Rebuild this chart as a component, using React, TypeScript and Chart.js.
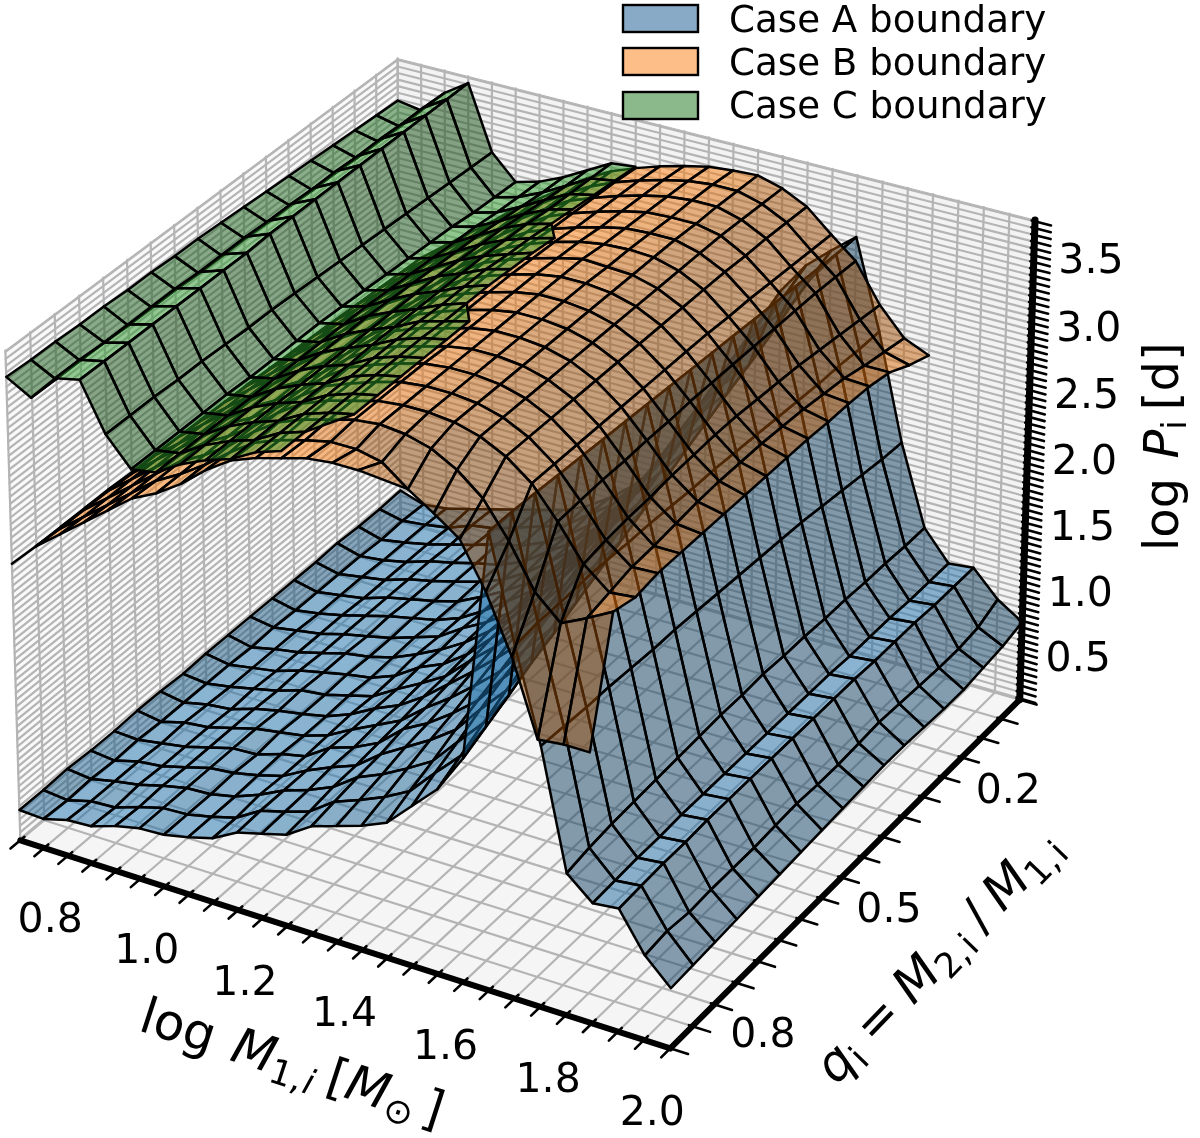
import React, { useEffect, useRef } from "react";
import { Chart, registerables } from "chart.js";

Chart.register(...registerables);

type V = number | null;
const _ = null;

const logM = [0.7, 0.75, 0.8, 0.85, 0.9, 0.95, 1.0, 1.05, 1.1, 1.15, 1.2, 1.25, 1.3, 1.35, 1.4, 1.45, 1.5, 1.55, 1.6, 1.65, 1.7, 1.75, 1.8, 1.85, 1.9, 1.95, 2.0];
const qValues = [0.1, 0.15, 0.2, 0.25, 0.3, 0.35, 0.4, 0.45, 0.5, 0.55, 0.6, 0.65, 0.7, 0.75, 0.8, 0.85, 0.9, 0.95];
const mTickLabels = ["0.8", "1.0", "1.2", "1.4", "1.6", "1.8", "2.0"];
const qTickLabels = ["0.2", "0.5", "0.8"];
const pTickLabels = ["0.5", "1.0", "1.5", "2.0", "2.5", "3.0", "3.5"];
const legendLabels = ["Case A boundary", "Case B boundary", "Case C boundary"];

const caseA: V[][] = [
  [.39, .33, .35, .40, .45, .50, .55, .60, .68, .80, .95, 1.15, 1.40, 1.70, 2.05, 2.40, 2.75, 2.99, 3.15, 3.30, 2.64, 1.85, 1.25, 1.03, 1.05, .86, .74],
  [.38, .34, .36, .39, .46, .49, .55, .61, .67, .81, .94, 1.13, 1.37, 1.66, 1.99, 2.32, 2.66, 2.90, 3.07, 3.30, 2.64, 1.86, 1.25, 1.03, 1.05, .79, .70],
  [.38, .33, .36, .40, .45, .50, .56, .60, .68, .79, .93, 1.11, 1.34, 1.62, 1.93, 2.25, 2.58, 2.81, 2.99, 3.31, 2.65, 1.88, 1.26, 1.03, 1.05, .77, .68],
  [.39, .34, .36, .40, .46, .50, .55, .59, .67, .80, .92, 1.09, 1.32, 1.57, 1.87, 2.17, 2.49, 2.72, 2.90, 3.32, 2.65, 1.90, 1.26, 1.04, 1.06, .77, .66],
  [.38, .34, .37, .40, .46, .50, .55, .60, .67, .78, .92, 1.07, 1.29, 1.53, 1.81, 2.10, 2.41, 2.63, 2.82, 3.33, 2.66, 1.92, 1.27, 1.04, 1.06, .78, .66],
  [.38, .34, .37, .40, .46, .50, .54, .59, .68, .78, .90, 1.06, 1.27, 1.50, 1.76, 2.03, 2.34, 2.56, 2.75, 3.34, 2.67, 1.94, 1.27, 1.04, 1.06, .79, .67],
  [.38, .34, .37, .41, .46, .51, .55, .59, .66, .77, .90, 1.03, 1.24, 1.46, 1.70, 1.96, 2.25, 2.47, 2.67, 3.35, 2.68, 1.95, 1.28, 1.05, 1.07, .80, .68],
  [.38, .35, .38, .41, .46, .50, .54, .60, .66, .78, .88, 1.01, 1.21, 1.41, 1.64, 1.88, 2.16, 2.38, 2.59, 3.36, 2.69, 1.96, 1.28, 1.05, 1.07, .79, .68],
  [.38, .34, .38, .41, .46, .51, .54, .59, .67, .76, .87, 1.01, 1.18, 1.37, 1.58, 1.81, 2.08, 2.29, 2.51, 3.37, 2.70, 1.97, 1.29, 1.05, 1.07, .78, .67],
  [.38, .35, .38, .41, .47, .51, .55, .58, .65, .77, .85, .98, 1.16, 1.33, 1.53, 1.73, 1.99, 2.20, 2.42, 3.38, 2.70, 1.98, 1.28, 1.05, 1.07, .78, .66],
  [.37, .35, .38, .42, .46, .52, .54, .59, .64, .75, .85, .96, 1.13, 1.29, 1.47, 1.66, 1.91, 2.11, 2.34, 3.39, 2.71, 1.99, 1.28, 1.05, 1.07, .79, .65],
  [.38, .35, .39, .41, .47, .51, .54, .58, .65, .75, .83, .95, 1.10, 1.25, 1.41, 1.58, 1.82, 2.02, 2.26, 3.40, 2.72, 2.00, 1.27, 1.05, 1.07, .78, .64],
  [.38, .35, .40, .42, .47, .52, .55, .58, .64, .74, .83, .92, 1.07, 1.20, 1.35, 1.51, 1.73, 1.93, 2.18, 3.41, 2.72, 2.00, 1.26, 1.05, 1.07, .77, .63],
  [.37, .36, .39, .42, .47, .52, .53, .59, .63, .75, .81, .90, 1.06, 1.16, 1.29, 1.44, 1.66, 1.85, 2.10, 3.42, 2.73, 2.01, 1.25, 1.05, 1.07, .77, .62],
  [.37, .35, .40, .42, .47, .52, .54, .58, .63, .73, .81, .88, 1.02, 1.13, 1.24, 1.37, 1.58, 1.77, 2.03, 3.43, 2.73, 2.02, 1.24, 1.04, 1.06, .77, .61],
  [.38, .36, .40, .43, .48, .52, .53, .57, .64, .73, .79, .87, 1.00, 1.08, 1.18, 1.29, 1.49, 1.68, 1.94, 3.44, 2.72, 2.02, 1.23, 1.04, 1.06, .76, .60],
  [.37, .35, .40, .41, .47, .52, .53, .57, .62, .73, .78, .84, .97, 1.04, 1.12, 1.22, 1.41, 1.59, 1.86, 3.45, 2.72, 2.03, 1.21, 1.03, 1.05, .78, .59],
  [.37, .36, .41, .42, .48, .52, .53, .57, .62, .72, .77, .82, .94, 1.00, 1.06, 1.14, 1.32, 1.50, 1.78, 3.45, 2.70, 2.04, 1.18, 1.02, 1.04, .76, .58],
];

const caseB: V[][] = [
  [2.10, 2.28, 2.42, 2.56, 2.70, 2.85, 2.97, 3.10, 3.22, 3.32, 3.39, 3.45, 3.50, 3.54, 3.56, 3.57, 3.52, 3.43, 3.27, 3.12, 2.84, 2.64, 2.56, _, _, _, _],
  [2.11, 2.29, 2.43, 2.57, 2.71, 2.86, 2.98, 3.11, 3.23, 3.33, 3.41, 3.47, 3.52, 3.56, 3.58, 3.58, 3.53, 3.44, 3.28, 3.13, 2.86, 2.67, 2.62, _, _, _, _],
  [2.12, 2.30, 2.44, 2.58, 2.72, 2.87, 2.99, 3.12, 3.24, 3.35, 3.42, 3.48, 3.53, 3.57, 3.59, 3.59, 3.54, 3.45, 3.29, 3.14, 2.88, 2.70, 2.70, _, _, _, _],
  [2.13, 2.31, 2.45, 2.59, 2.73, 2.88, 2.99, 3.12, 3.25, 3.36, 3.43, 3.49, 3.54, 3.58, 3.59, 3.59, 3.55, 3.45, 3.30, 3.14, 2.90, 2.74, 2.73, _, _, _, _],
  [2.14, 2.32, 2.46, 2.60, 2.74, 2.89, 3.00, 3.13, 3.26, 3.37, 3.44, 3.50, 3.55, 3.59, 3.60, 3.60, 3.55, 3.46, 3.31, 3.14, 2.92, 2.76, 2.74, _, _, _, _],
  [2.15, 2.33, 2.47, 2.61, 2.75, 2.90, 3.00, 3.13, 3.27, 3.38, 3.46, 3.52, 3.57, 3.60, 3.61, 3.60, 3.55, 3.46, 3.31, 3.14, 2.93, 2.78, 2.74, _, _, _, _],
  [2.16, 2.33, 2.48, 2.62, 2.76, 2.90, 3.01, 3.14, 3.28, 3.40, 3.47, 3.53, 3.58, 3.62, 3.61, 3.60, 3.55, 3.46, 3.32, 3.14, 2.94, 2.79, 2.75, _, _, _, _],
  [2.17, 2.34, 2.49, 2.63, 2.77, 2.91, 3.01, 3.14, 3.28, 3.40, 3.48, 3.54, 3.59, 3.62, 3.62, 3.60, 3.55, 3.46, 3.32, 3.14, 2.95, 2.80, 2.75, _, _, _, _],
  [2.17, 2.35, 2.49, 2.63, 2.77, 2.91, 3.02, 3.15, 3.29, 3.41, 3.48, 3.54, 3.59, 3.62, 3.62, 3.60, 3.55, 3.46, 3.32, 3.14, 2.95, 2.80, 2.75, _, _, _, _],
  [2.18, 2.36, 2.50, 2.64, 2.78, 2.92, 3.02, 3.15, 3.29, 3.41, 3.48, 3.54, 3.59, 3.62, 3.62, 3.60, 3.55, 3.46, 3.32, 3.13, 2.94, 2.80, 2.75, _, _, _, _],
  [2.18, 2.36, 2.50, 2.64, 2.78, 2.92, 3.03, 3.15, 3.30, 3.42, 3.49, 3.54, 3.59, 3.62, 3.62, 3.60, 3.55, 3.46, 3.32, 3.13, 2.93, 2.79, 2.75, _, _, _, _],
  [2.19, 2.37, 2.51, 2.65, 2.79, 2.93, 3.03, 3.15, 3.30, 3.42, 3.49, 3.54, 3.59, 3.62, 3.62, 3.60, 3.55, 3.46, 3.32, 3.12, 2.91, 2.77, 2.75, _, _, _, _],
  [2.19, 2.37, 2.51, 2.65, 2.79, 2.93, 3.03, 3.15, 3.30, 3.42, 3.49, 3.55, 3.60, 3.62, 3.62, 3.60, 3.55, 3.46, 3.32, 3.12, 2.90, 2.75, 2.75, _, _, _, _],
  [2.20, 2.37, 2.52, 2.66, 2.80, 2.94, 3.04, 3.16, 3.30, 3.42, 3.49, 3.55, 3.60, 3.62, 3.62, 3.60, 3.55, 3.46, 3.32, 3.11, 2.88, 2.74, 2.75, _, _, _, _],
  [2.20, 2.38, 2.52, 2.66, 2.80, 2.94, 3.04, 3.16, 3.31, 3.43, 3.50, 3.55, 3.60, 3.62, 3.62, 3.60, 3.55, 3.46, 3.32, 3.10, 2.85, 2.70, 2.72, _, _, _, _],
  [2.20, 2.38, 2.52, 2.66, 2.80, 2.94, 3.04, 3.16, 3.31, 3.43, 3.50, 3.55, 3.60, 3.62, 3.60, 3.55, 3.45, 3.30, 3.05, 2.74, 2.57, 2.66, 2.76, _, _, _, _],
  [2.20, 2.38, 2.52, 2.66, 2.80, 2.94, 3.04, 3.16, 3.30, 3.42, 3.49, 3.54, 3.58, 3.58, 3.54, 3.40, 3.28, 3.15, 2.83, 2.42, 1.88, 1.90, 1.90, _, _, _, _],
  [2.21, 2.39, 2.53, 2.67, 2.81, 2.95, 3.04, 3.16, 3.31, 3.43, 3.50, 3.55, 3.60, 3.62, 3.62, _, _, _, _, _, _, _, _, _, _, _, _],
];

const caseC: V[][] = [
  [3.44, 3.41, 3.59, 3.71, 3.23, 3.05, 3.10, 3.18, 3.28, 3.38, 3.40, _, _, _, _, _, _, _, _, _, _, _, _, _, _, _, _],
  [3.45, 3.41, 3.60, 3.71, 3.24, 3.06, 3.11, 3.19, 3.29, 3.39, 3.42, _, _, _, _, _, _, _, _, _, _, _, _, _, _, _, _],
  [3.46, 3.42, 3.60, 3.71, 3.25, 3.07, 3.12, 3.21, 3.31, 3.40, 3.44, _, _, _, _, _, _, _, _, _, _, _, _, _, _, _, _],
  [3.47, 3.42, 3.61, 3.71, 3.26, 3.09, 3.14, 3.23, 3.33, 3.41, 3.46, _, _, _, _, _, _, _, _, _, _, _, _, _, _, _, _],
  [3.48, 3.43, 3.61, 3.71, 3.27, 3.10, 3.15, 3.25, 3.35, 3.43, 3.48, _, _, _, _, _, _, _, _, _, _, _, _, _, _, _, _],
  [3.49, 3.43, 3.62, 3.71, 3.28, 3.11, 3.16, 3.26, 3.36, 3.44, 3.50, 3.55, _, _, _, _, _, _, _, _, _, _, _, _, _, _, _],
  [3.50, 3.44, 3.62, 3.71, 3.29, 3.12, 3.17, 3.27, 3.37, 3.45, 3.51, 3.57, _, _, _, _, _, _, _, _, _, _, _, _, _, _, _],
  [3.51, 3.44, 3.63, 3.71, 3.30, 3.13, 3.18, 3.28, 3.38, 3.45, 3.53, 3.58, _, _, _, _, _, _, _, _, _, _, _, _, _, _, _],
  [3.52, 3.45, 3.63, 3.71, 3.31, 3.14, 3.19, 3.29, 3.38, 3.45, 3.53, 3.59, _, _, _, _, _, _, _, _, _, _, _, _, _, _, _],
  [3.53, 3.45, 3.64, 3.71, 3.32, 3.15, 3.19, 3.30, 3.38, 3.45, 3.53, 3.59, _, _, _, _, _, _, _, _, _, _, _, _, _, _, _],
  [3.53, 3.45, 3.64, 3.70, 3.33, 3.15, 3.19, 3.30, 3.38, 3.45, 3.54, 3.59, 3.64, _, _, _, _, _, _, _, _, _, _, _, _, _, _],
  [3.54, 3.46, 3.64, 3.70, 3.33, 3.15, 3.19, 3.30, 3.38, 3.45, 3.54, 3.60, 3.64, _, _, _, _, _, _, _, _, _, _, _, _, _, _],
  [3.54, 3.46, 3.65, 3.70, 3.34, 3.15, 3.19, 3.30, 3.38, 3.44, 3.54, 3.60, 3.64, _, _, _, _, _, _, _, _, _, _, _, _, _, _],
  [3.55, 3.46, 3.65, 3.70, 3.35, 3.16, 3.19, 3.30, 3.38, 3.44, 3.54, 3.60, 3.64, _, _, _, _, _, _, _, _, _, _, _, _, _, _],
  [3.55, 3.47, 3.65, 3.70, 3.35, 3.16, 3.19, 3.30, 3.38, 3.44, 3.54, 3.60, 3.64, _, _, _, _, _, _, _, _, _, _, _, _, _, _],
  [3.56, 3.47, 3.65, 3.70, 3.36, 3.16, 3.19, 3.30, 3.38, 3.44, 3.54, 3.60, 3.64, _, _, _, _, _, _, _, _, _, _, _, _, _, _],
  [3.56, 3.47, 3.66, 3.70, 3.36, 3.16, 3.19, 3.30, 3.38, 3.44, 3.54, 3.60, _, _, _, _, _, _, _, _, _, _, _, _, _, _, _],
  [3.57, 3.47, 3.66, 3.70, 3.36, 3.16, 3.19, 3.30, 3.38, 3.44, 3.54, 3.60, _, _, _, _, _, _, _, _, _, _, _, _, _, _, _],
];

const mRange = [0.7, 2.0];
const qRange = [0.1, 0.95];
const pRange = [0.14, 3.76];
const tickStep = 0.05;

// cube corner (fraction along M, q, log P) -> picture position
const cubeCorners: number[][] = [
  [0, 0, 0, 400, 521],
  [1, 0, 0, 1020, 700],
  [1, 1, 0, 670, 1048],
  [0, 1, 0, 21, 841],
  [0, 0, 1, 398, 59],
  [1, 0, 1, 1035, 220],
  [0, 1, 1, 5, 350],
];

function solveCamera(): number[] {
  const rows: number[][] = [];
  const rhs: number[] = [];
  for (const [a, b, c, X, Y] of cubeCorners) {
    rows.push([a, b, c, 1, 0, 0, 0, 0, -X * a, -X * b, -X * c]);
    rhs.push(X);
    rows.push([0, 0, 0, 0, a, b, c, 1, -Y * a, -Y * b, -Y * c]);
    rhs.push(Y);
  }
  const n = 11;
  const A: number[][] = Array.from({ length: n }, () => new Array(n + 1).fill(0));
  rows.forEach((r, k) => {
    for (let i = 0; i < n; i++) {
      for (let j = 0; j < n; j++) A[i][j] += r[i] * r[j];
      A[i][n] += r[i] * rhs[k];
    }
  });
  for (let i = 0; i < n; i++) {
    let p = i;
    for (let k = i + 1; k < n; k++) if (Math.abs(A[k][i]) > Math.abs(A[p][i])) p = k;
    [A[i], A[p]] = [A[p], A[i]];
    for (let k = 0; k < n; k++) {
      if (k === i) continue;
      const f = A[k][i] / A[i][i];
      for (let j = i; j <= n; j++) A[k][j] -= f * A[i][j];
    }
  }
  return A.map((r, i) => r[n] / r[i]);
}

const cam = solveCamera();
function projFrac(a: number, b: number, c: number) {
  const w = cam[8] * a + cam[9] * b + cam[10] * c + 1;
  return {
    x: (cam[0] * a + cam[1] * b + cam[2] * c + cam[3]) / w,
    y: (cam[4] * a + cam[5] * b + cam[6] * c + cam[7]) / w,
    w,
  };
}
const fM = (m: number) => (m - mRange[0]) / (mRange[1] - mRange[0]);
const fQ = (q: number) => (q - qRange[0]) / (qRange[1] - qRange[0]);
const fP = (p: number) => (p - pRange[0]) / (pRange[1] - pRange[0]);
const project = (m: number, q: number, p: number) => projFrac(fM(m), fQ(q), fP(p));

const lineSet = (pts: { x: number; y: number }[], color: string, width: number) => ({
  data: pts.map((p) => ({ x: p.x, y: p.y })),
  showLine: true,
  pointRadius: 0,
  borderColor: color,
  borderWidth: width,
  borderCapStyle: "round",
  borderJoinStyle: "round",
  fill: false,
  tension: 0,
  clip: false,
});
const polySet = (pts: { x: number; y: number }[], fillColor: string, edge: string, width: number) => ({
  ...lineSet([...pts, pts[0]], edge, width),
  backgroundColor: fillColor,
  fill: "shape",
});

type P3 = [number, number, number];
const light: P3 = [-0.6667, -0.6667, 0.3333];

function surfaceSets(z: V[][], rgb: number[], alpha: number) {
  const quads: { pts: P3[]; shade: number; depth: number }[] = [];
  for (let r = 0; r < qValues.length - 1; r++) {
    for (let c = 0; c < logM.length - 1; c++) {
      const corners: [number, number][] = [[r, c], [r, c + 1], [r + 1, c + 1], [r + 1, c]];
      const pts: P3[] = [];
      for (const [i, j] of corners) {
        const val = z[i][j];
        if (val !== null) pts.push([logM[j], qValues[i], val]);
      }
      if (pts.length < 3) continue;
      const a = [pts[1][0] - pts[0][0], pts[1][1] - pts[0][1], pts[1][2] - pts[0][2]];
      const b = [pts[2][0] - pts[1][0], pts[2][1] - pts[1][1], pts[2][2] - pts[1][2]];
      let n = [a[1] * b[2] - a[2] * b[1], a[2] * b[0] - a[0] * b[2], a[0] * b[1] - a[1] * b[0]];
      if (n[2] < 0) n = n.map((v) => -v);
      const len = Math.hypot(n[0], n[1], n[2]) || 1;
      const shade = (n[0] * light[0] + n[1] * light[1] + n[2] * light[2]) / len;
      const depth = pts.reduce((s, p) => s + project(p[0], p[1], p[2]).w, 0) / pts.length;
      quads.push({ pts, shade, depth });
    }
  }
  const lo = Math.min(...quads.map((q) => q.shade));
  const hi = Math.max(...quads.map((q) => q.shade));
  quads.sort((a, b) => b.depth - a.depth);
  return quads.map((q) => {
    const k = 0.5 + (0.5 * (q.shade - lo)) / (hi - lo);
    const col = `rgba(${rgb.map((v) => Math.round(v * k)).join(",")},${alpha})`;
    return polySet(q.pts.map((p) => project(p[0], p[1], p[2])), col, "#000000", 2.5);
  });
}

function buildDatasets() {
  const sets: any[] = [];
  const gridColor = "#b4b4b4";
  const [m0, m1] = mRange;
  const [q0, q1] = qRange;
  const [p0, p1] = pRange;
  sets.push(polySet([project(m0, q0, p0), project(m1, q0, p0), project(m1, q1, p0), project(m0, q1, p0)], "#f5f5f5", gridColor, 1));
  sets.push(polySet([project(m0, q0, p0), project(m1, q0, p0), project(m1, q0, p1), project(m0, q0, p1)], "#f3f3f3", gridColor, 1));
  sets.push(polySet([project(m0, q0, p0), project(m0, q1, p0), project(m0, q1, p1), project(m0, q0, p1)], "#f9f9f9", gridColor, 1));
  const pTicks: number[] = [];
  for (let k = Math.ceil(p0 / tickStep); k * tickStep <= p1; k++) pTicks.push(k * tickStep);
  for (const m of logM) {
    sets.push(lineSet([project(m, q1, p0), project(m, q0, p0), project(m, q0, p1)], gridColor, 2.2));
  }
  for (const q of qValues) {
    sets.push(lineSet([project(m1, q, p0), project(m0, q, p0), project(m0, q, p1)], gridColor, 2.2));
  }
  for (const p of pTicks) {
    sets.push(lineSet([project(m0, q1, p), project(m0, q0, p), project(m1, q0, p)], gridColor, 2.2));
  }
  sets.push(...surfaceSets(caseA, [31, 119, 180], 0.5));
  sets.push(...surfaceSets(caseB, [255, 127, 14], 0.5));
  sets.push(...surfaceSets(caseC, [44, 160, 44], 0.5));
  // axes
  sets.push(lineSet([project(m0, q1, p0), project(m1, q1, p0)], "#000", 6));
  sets.push(lineSet([project(m1, q1, p0), project(m1, q0, p0)], "#000", 6));
  sets.push(lineSet([project(m1, q0, p0), project(m1, q0, p1)], "#000", 7));
  for (const m of logM) {
    const f = fM(m);
    sets.push(lineSet([projFrac(f, 0.99, 0), projFrac(f, 1.024, 0)], "#000", 2.6));
  }
  for (const q of qValues) {
    const f = fQ(q);
    sets.push(lineSet([projFrac(0.995, f, 0), projFrac(1.026, f, 0)], "#000", 2.6));
  }
  for (const p of pTicks) {
    const f = fP(p);
    sets.push(lineSet([projFrac(0.995, 0, f), projFrac(1.024, 0, f)], "#000", 2.6));
  }
  return sets.reverse();
}

type Seg = { t: string; it?: boolean; sub?: boolean; gap?: number };
function drawMath(ctx: CanvasRenderingContext2D, segs: Seg[], x: number, y: number, deg: number, size: number) {
  ctx.save();
  ctx.translate(x, y);
  ctx.rotate((deg * Math.PI) / 180);
  ctx.textAlign = "left";
  ctx.textBaseline = "alphabetic";
  ctx.fillStyle = "#000";
  let cx = 0;
  for (const s of segs) {
    const fs = s.sub ? size * 0.7 : size;
    ctx.font = `${s.it ? "italic " : ""}${fs}px "DejaVu Sans"`;
    ctx.fillText(s.t, cx, s.sub ? size * 0.17 : 0);
    cx += ctx.measureText(s.t).width + (s.gap || 0);
  }
  ctx.restore();
}

const legendColors = ["rgb(136,170,199)", "rgb(253,190,135)", "rgb(140,185,140)"];

const textPlugin = {
  id: "cubeText",
  afterDraw(chart: any) {
    const ctx: CanvasRenderingContext2D = chart.ctx;
    const sx = chart.scales.x;
    const sy = chart.scales.y;
    ctx.save();
    ctx.fillStyle = "#000";
    ctx.textAlign = "center";
    ctx.textBaseline = "middle";
    ctx.font = '41px "DejaVu Sans"';
    const put = (s: string, p: { x: number; y: number }, dx: number, dy: number) =>
      ctx.fillText(s, sx.getPixelForValue(p.x) + dx, sy.getPixelForValue(p.y) + dy);
    for (const s of mTickLabels) put(s, project(parseFloat(s), qRange[1], pRange[0]), -18, 66);
    for (const s of qTickLabels) put(s, project(mRange[1], parseFloat(s), pRange[0]), 27, 54);
    for (const s of pTickLabels) put(s, project(mRange[1], qRange[0], parseFloat(s)), 57, 7);
    ctx.textAlign = "left";
    ctx.textBaseline = "alphabetic";
    ctx.font = '37.2px "DejaVu Sans"';
    legendLabels.forEach((s, i) => {
      const top = [5, 48, 92][i];
      ctx.fillStyle = legendColors[i];
      ctx.fillRect(623, top, 75, 27);
      ctx.strokeStyle = "#000";
      ctx.lineWidth = 2.4;
      ctx.strokeRect(623, top, 75, 27);
      ctx.fillStyle = "#000";
      ctx.fillText(s, 729, [32, 75, 118][i]);
    });
    ctx.restore();
    drawMath(ctx, [{ t: "log ", gap: 4 }, { t: "M", it: true }, { t: "1,", sub: true, gap: 2 }, { t: "i", sub: true, it: true, gap: 12 }, { t: "[" }, { t: "M", it: true }, { t: "\u2299", sub: true, gap: 8 }, { t: "]" }], 137, 1030, 18, 50);
    drawMath(ctx, [{ t: "q", it: true }, { t: "i", sub: true, gap: 14 }, { t: "=", gap: 14 }, { t: "M", it: true }, { t: "2,", sub: true, gap: 2 }, { t: "i", sub: true, gap: 12 }, { t: "/", gap: 12 }, { t: "M", it: true }, { t: "1,", sub: true, gap: 2 }, { t: "i", sub: true }], 836, 1086, -46, 50);
    drawMath(ctx, [{ t: "log ", gap: 4 }, { t: "P", it: true }, { t: "i", sub: true, gap: 10 }, { t: "[d]" }], 1178, 551, -90, 48);
  },
};

export default function App() {
  const ref = useRef<HTMLCanvasElement>(null);
  useEffect(() => {
    document.body.style.margin = "0";
    document.body.style.background = "#fff";
    const chart = new Chart(ref.current as HTMLCanvasElement, {
      type: "scatter",
      data: { datasets: buildDatasets() },
      plugins: [textPlugin],
      options: {
        animation: false,
        responsive: false,
        maintainAspectRatio: false,
        devicePixelRatio: 1,
        events: [],
        layout: { padding: 0 },
        scales: {
          x: { type: "linear", min: 0, max: 1200, display: false },
          y: { type: "linear", min: 0, max: 1138, reverse: true, display: false },
        },
        plugins: { legend: { display: false }, tooltip: { enabled: false } },
      },
    } as any);
    return () => chart.destroy();
  }, []);
  return (
    <div style={{ width: 1200, height: 1138 }}>
      <canvas ref={ref} width={1200} height={1138} style={{ display: "block" }} />
    </div>
  );
}
